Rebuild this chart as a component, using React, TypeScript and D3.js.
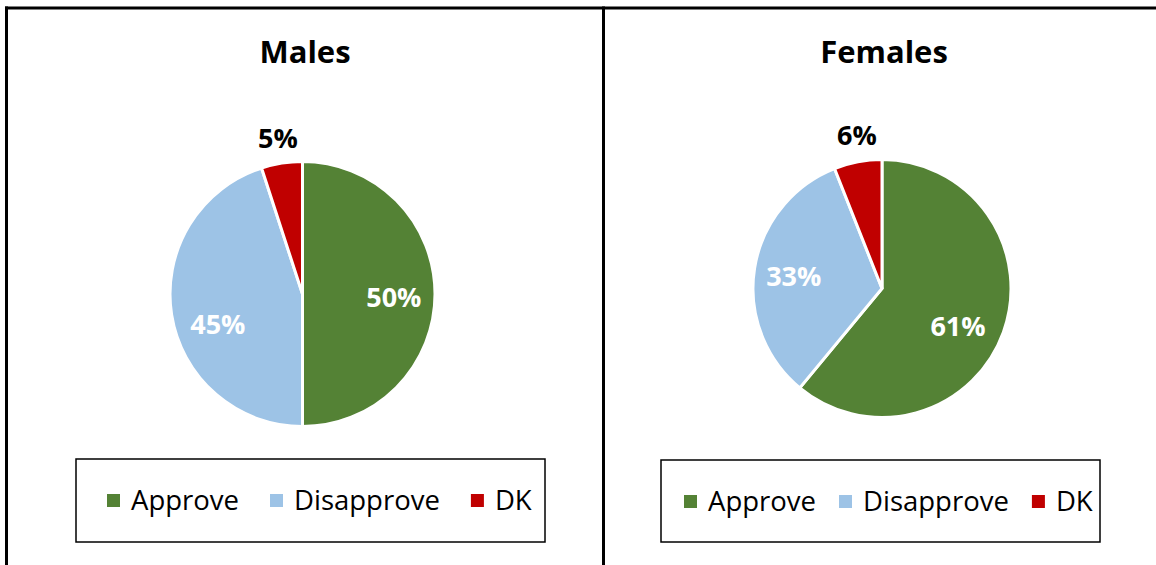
import React, { useEffect, useRef } from "react";
import * as d3 from "d3";

const categories = ["Approve", "Disapprove", "DK"];
const colors = ["#548235", "#9DC3E6", "#C00000"];
const panelTitles = ["Males", "Females"];
const malesValues = [50, 45, 5];
const femalesValues = [61, 33, 6];
const labelColors = ["#FFFFFF", "#FFFFFF", "#000000"];

// layout (positions/sizes)
const panels = [
  { cx: 302.5, cy: 294, r: 132.5, titleX: 305, legend: { x: 76, y: 459, w: 469, h: 83, pad: 31, gap: 31 },
    labelPos: [{ a: 2.5, k: 0.69 }, { a: -11, k: 0.68 }, { a: 0, k: 1.19 }] },
  { cx: 882, cy: 288.5, r: 129, titleX: 884, legend: { x: 661, y: 460, w: 439, h: 82, pad: 23, gap: 23 },
    labelPos: [{ a: 7, k: 0.66 }, { a: -1.5, k: 0.69 }, { a: 1.5, k: 1.2 }] },
];

const FONT = "'Open Sans', 'DejaVu Sans', sans-serif";

export default function App() {
  const ref = useRef<SVGSVGElement>(null);

  useEffect(() => {
    const svg = d3.select(ref.current);
    svg.selectAll("*").remove();

    // frame lines
    svg.append("line").attr("x1", 5).attr("x2", 1156).attr("y1", 8).attr("y2", 8)
      .attr("stroke", "#000").attr("stroke-width", 3);
    svg.append("line").attr("x1", 6.5).attr("x2", 6.5).attr("y1", 6.5).attr("y2", 565)
      .attr("stroke", "#000").attr("stroke-width", 3);
    svg.append("line").attr("x1", 603.5).attr("x2", 603.5).attr("y1", 6.5).attr("y2", 565)
      .attr("stroke", "#000").attr("stroke-width", 3);

    const datasets = [malesValues, femalesValues];
    const pie = d3.pie<number>().sort(null).value((d) => d);

    panels.forEach((p, i) => {
      const g = svg.append("g");
      g.append("text")
        .attr("x", p.titleX).attr("y", 63)
        .attr("text-anchor", "middle")
        .attr("font-family", FONT).attr("font-weight", 700).attr("font-size", 31)
        .attr("fill", "#000")
        .text(panelTitles[i]);

      const arcs = pie(datasets[i]);
      const arc = d3.arc<d3.PieArcDatum<number>>().innerRadius(0).outerRadius(p.r);
      const pg = g.append("g").attr("transform", `translate(${p.cx},${p.cy})`);
      pg.selectAll("path.slice").data(arcs).enter().append("path")
        .attr("class", "slice")
        .attr("d", arc as any)
        .attr("fill", (_d, j) => colors[j])
        .attr("stroke", "#fff").attr("stroke-width", 3).attr("stroke-linejoin", "miter");

      arcs.forEach((a, j) => {
        const lp = p.labelPos[j];
        const mid = (a.startAngle + a.endAngle) / 2 + (lp.a * Math.PI) / 180;
        const rr = p.r * lp.k;
        const x = Math.sin(mid) * rr;
        const y = -Math.cos(mid) * rr;
        pg.append("text")
          .attr("x", x).attr("y", y)
          .attr("dy", "0.35em")
          .attr("text-anchor", "middle")
          .attr("font-family", FONT).attr("font-weight", 700).attr("font-size", 27)
          .attr("fill", labelColors[j])
          .text(`${a.data}%`);
      });

      // legend
      const L = p.legend;
      g.append("rect").attr("x", L.x).attr("y", L.y).attr("width", L.w).attr("height", L.h)
        .attr("fill", "#fff").attr("stroke", "#000").attr("stroke-width", 1.5);
      let xx = L.x + L.pad;
      const cyL = L.y + 42;
      categories.forEach((c, j) => {
        g.append("rect").attr("x", xx).attr("y", cyL - 7).attr("width", 13).attr("height", 13)
          .attr("fill", colors[j]);
        const t = g.append("text")
          .attr("x", xx + 24).attr("y", cyL + 9)
          .attr("font-family", FONT).attr("font-size", 27.5).attr("fill", "#000")
          .text(c);
        const w = (t.node() as SVGTextElement).getComputedTextLength();
        xx = xx + 24 + w + L.gap;
      });
    });
  }, []);

  return (
    <svg
      ref={ref}
      width={1156}
      height={565}
      style={{ position: "absolute", left: 0, top: 0, background: "#fff" }}
    />
  );
}
